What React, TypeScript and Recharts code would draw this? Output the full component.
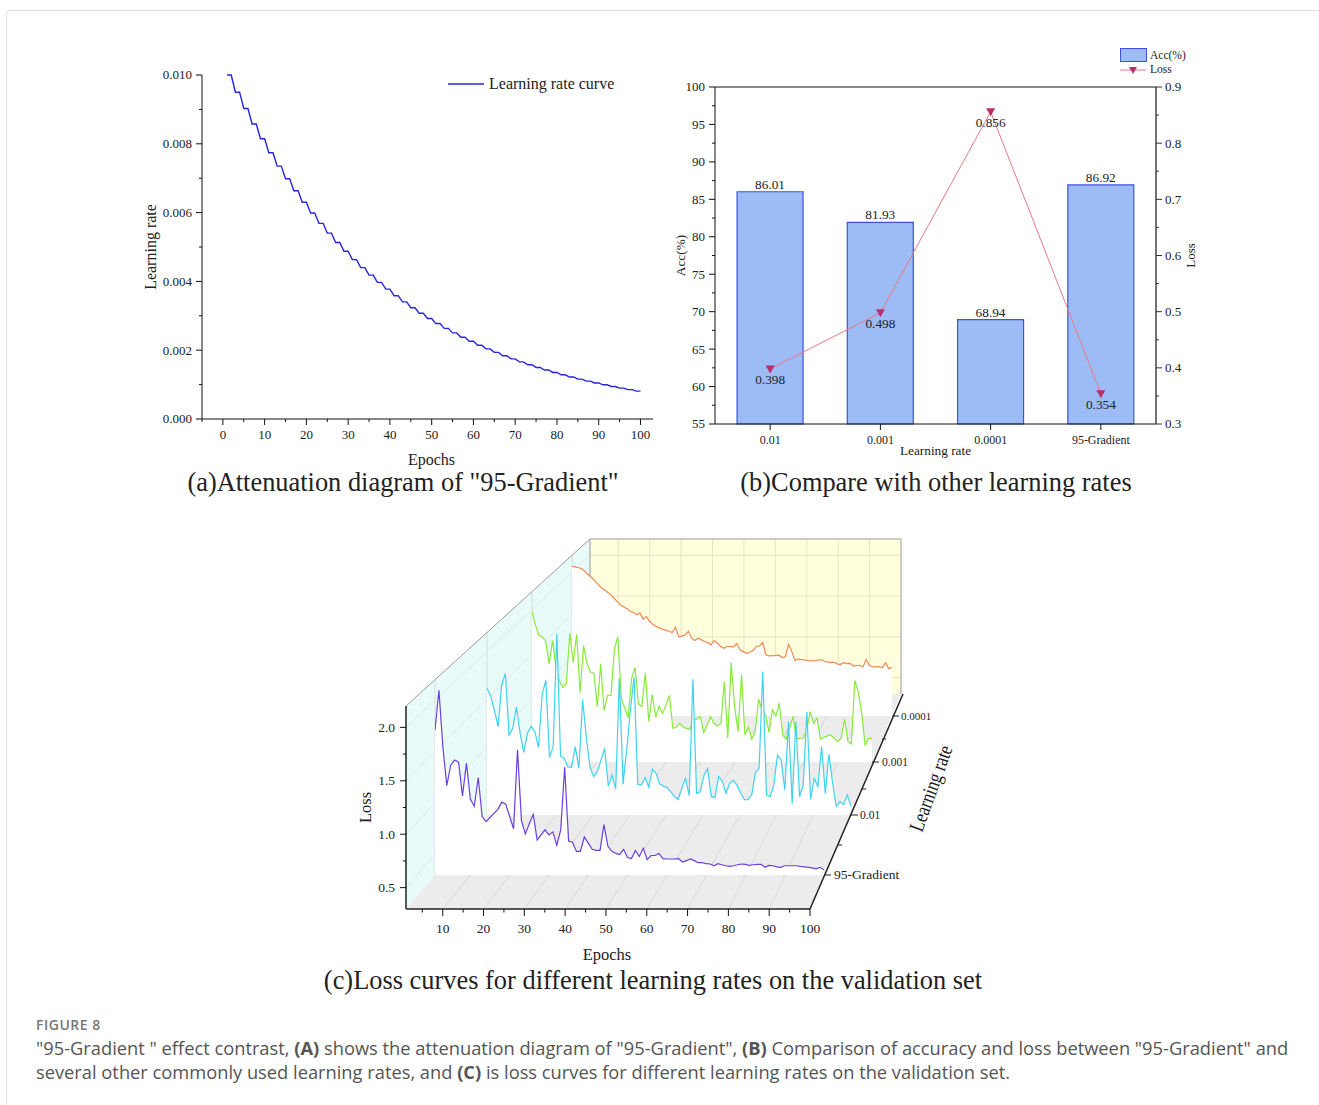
import {
  AreaChart, Area, Bar, CartesianGrid, ComposedChart, LabelList,
  Line, LineChart, ReferenceLine, XAxis, YAxis,
} from 'recharts'

const SERIF = "'Liberation Serif', serif"
const SANS = "'Open Sans', sans-serif"

// (a) learning rate, every value holds for two epochs
const lrSteps = [
  0.01, 0.0095, 0.009025, 0.008574, 0.008145, 0.007738, 0.007351, 0.006983, 0.006634, 0.006302,
  0.005987, 0.005688, 0.005404, 0.005133, 0.004877, 0.004633, 0.004401, 0.004181, 0.003972, 0.003774,
  0.003585, 0.003406, 0.003235, 0.003074, 0.00292, 0.002774, 0.002635, 0.002503, 0.002378, 0.002259,
  0.002146, 0.002039, 0.001937, 0.00184, 0.001748, 0.001661, 0.001578, 0.001499, 0.001424, 0.001353,
  0.001285, 0.001221, 0.00116, 0.001102, 0.001047, 0.000994, 0.000945, 0.000897, 0.000853, 0.00081,
]
const lrData = lrSteps.flatMap((v, i) => [
  { epoch: i * 2 + 1, lr: v },
  { epoch: i * 2 + 2, lr: v },
])

// (b)
const rateNames = ['0.01', '0.001', '0.0001', '95-Gradient']
const accValues = [86.01, 81.93, 68.94, 86.92]
const lossValues = [0.398, 0.498, 0.856, 0.354]
const compareData = rateNames.map((name, i) => ({ name, acc: accValues[i], loss: lossValues[i] }))

// (c) validation loss per epoch
const lossGradient = [
  1.71, 2.10, 1.55, 1.17, 1.37, 1.42, 1.40, 1.07, 1.39, 1.04,
  0.97, 1.25, 0.87, 0.82, 0.86, 0.90, 0.94, 1.01, 0.99, 0.87,
  0.75, 1.52, 0.83, 0.70, 0.80, 0.89, 0.64, 0.69, 0.74, 0.69,
  0.72, 0.59, 0.74, 1.35, 0.63, 0.62, 0.53, 0.53, 0.67, 0.61,
  0.55, 0.54, 0.54, 0.79, 0.58, 0.53, 0.51, 0.50, 0.55, 0.47,
  0.46, 0.54, 0.48, 0.56, 0.45, 0.49, 0.49, 0.51, 0.46, 0.456,
  0.456, 0.456, 0.46, 0.427, 0.44, 0.456, 0.44, 0.42, 0.42, 0.41,
  0.407, 0.39, 0.41, 0.40, 0.39, 0.384, 0.39, 0.40, 0.407, 0.404,
  0.394, 0.40, 0.404, 0.404, 0.375, 0.394, 0.39, 0.38, 0.375, 0.39,
  0.39, 0.39, 0.39, 0.384, 0.38, 0.375, 0.37, 0.36, 0.375, 0.35,
]
const loss001 = [
  1.615, 1.536, 1.39, 1.217, 1.65, 1.77, 1.13, 1.20, 1.42, 1.15,
  0.95, 1.15, 1.22, 1.17, 1.0, 1.55, 1.70, 0.90, 1.01, 2.18,
  0.91, 0.89, 0.80, 0.795, 1.01, 0.785, 1.50, 1.11, 0.80, 0.70,
  0.75, 0.87, 0.99, 0.60, 0.715, 0.57, 1.72, 0.62, 0.975, 1.39,
  1.73, 0.62, 0.61, 0.69, 0.59, 0.775, 0.73, 0.62, 0.60, 0.585,
  0.54, 0.49, 0.46, 0.58, 0.68, 0.50, 1.71, 0.525, 0.54, 0.71,
  0.78, 0.49, 0.48, 0.70, 0.65, 0.525, 0.63, 0.66, 0.61, 0.525,
  0.46, 0.46, 0.51, 0.74, 0.785, 1.79, 0.51, 0.49, 0.61, 0.92,
  0.87, 0.56, 1.27, 0.42, 1.27, 0.49, 0.61, 1.37, 0.46, 0.68,
  0.595, 1.01, 0.525, 0.93, 0.63, 0.39, 0.44, 0.41, 0.51, 0.39,
]
const loss0001 = [
  1.97, 1.82, 1.705, 1.69, 1.64, 1.39, 1.65, 1.34, 1.20, 1.13,
  1.17, 1.73, 1.405, 1.72, 1.07, 1.59, 1.40, 1.30, 1.29, 0.915,
  1.39, 0.87, 1.04, 1.04, 1.56, 1.69, 1.01, 0.90, 0.79, 1.23,
  1.35, 0.94, 0.92, 1.29, 0.75, 1.05, 0.80, 0.92, 0.84, 0.93,
  1.04, 0.675, 0.686, 0.73, 0.69, 0.67, 0.66, 0.77, 0.775, 0.805,
  0.627, 0.71, 0.80, 0.73, 0.70, 0.73, 1.19, 0.564, 1.405, 0.916,
  0.638, 1.27, 0.60, 0.686, 0.553, 0.638, 0.997, 0.879, 0.823, 0.63,
  0.88, 0.81, 0.953, 0.60, 0.553, 0.675, 0.805, 0.556, 0.564, 0.564,
  0.656, 0.86, 0.73, 0.786, 0.553, 0.575, 0.59, 0.60, 0.564, 0.527,
  0.564, 0.775, 0.527, 0.50, 1.205, 1.08, 0.84, 0.49, 0.563, 0.563,
]
const loss00001 = [
  2.065, 2.06, 2.05, 2.04, 2.006, 1.967, 1.935, 1.90, 1.856, 1.817,
  1.79, 1.76, 1.73, 1.69, 1.65, 1.61, 1.59, 1.565, 1.533, 1.525,
  1.494, 1.514, 1.443, 1.474, 1.415, 1.383, 1.356, 1.34, 1.324, 1.313,
  1.30, 1.285, 1.348, 1.234, 1.242, 1.257, 1.30, 1.218, 1.19, 1.218,
  1.198, 1.179, 1.167, 1.139, 1.19, 1.159, 1.12, 1.10, 1.12, 1.12,
  1.115, 1.155, 1.08, 1.06, 1.04, 1.052, 1.072, 1.12, 1.127, 1.167,
  1.02, 1.009, 1.013, 1.013, 1.017, 0.99, 1.0, 1.147, 1.06, 0.954,
  0.974, 0.966, 0.962, 0.954, 0.95, 0.95, 0.958, 0.966, 0.946, 0.938,
  0.934, 0.934, 0.915, 0.907, 0.93, 0.919, 0.922, 0.891, 0.895, 0.899,
  0.879, 0.966, 0.895, 0.879, 0.879, 0.883, 0.871, 0.93, 0.859, 0.875,
]

const toSeries = (values: number[]) => values.map((loss, i) => ({ epoch: i + 1, loss }))

const LOSS_DOMAIN: [number, number] = [0.3, 2.2]
const EPOCH_DOMAIN: [number, number] = [1, 100]
const lossTicks = [0.5, 0.75, 1, 1.25, 1.5, 1.75, 2]
const epochTicks = [5, 10, 15, 20, 25, 30, 35, 40, 45, 50, 55, 60, 65, 70, 75, 80, 85, 90, 95, 100]

// the panels of (c), back to front, each one shrunk by the perspective
const panels = [
  { key: 'back', left: 572, bottom: 716, width: 320, height: 161, color: '#EE8A55', values: loss00001 },
  { key: 'mid', left: 532, bottom: 762, width: 340, height: 171, color: '#86EB3A', values: loss0001 },
  { key: 'near', left: 487, bottom: 815, width: 364, height: 183, color: '#3FD3F0', values: loss001 },
  { key: 'front', left: 435, bottom: 875, width: 389, height: 195, color: '#6A3FE0', values: lossGradient },
]

/* eslint-disable @typescript-eslint/no-explicit-any */
const bottomTick = (isMajor: (v: number) => boolean, dy: number, size: number, len = 6) => (props: any) => {
  const { x, y, payload } = props
  const major = isMajor(payload.value)
  return (
    <g>
      <line x1={x} x2={x} y1={y} y2={y + (major ? len : len / 2)} stroke="#111" />
      {major && (
        <text x={x} y={y + dy} textAnchor="middle" fontSize={size} fontFamily={SERIF} fill="#222">
          {payload.value}
        </text>
      )}
    </g>
  )
}

const sideTick = (side: 1 | -1, isMajor: (v: number) => boolean, fmt: (v: number) => string, gap: number, size: number) => (props: any) => {
  const { x, y, payload } = props
  const major = isMajor(Number(payload.value))
  return (
    <g>
      <line x1={x} x2={x + side * (major ? 6 : 3)} y1={y} y2={y} stroke={side > 0 ? '#333' : '#111'} />
      {major && (
        <text x={x + side * gap} y={y + size * 0.34} textAnchor={side > 0 ? 'start' : 'end'}
              fontSize={size} fontFamily={SERIF} fill="#222">
          {fmt(Number(payload.value))}
        </text>
      )}
    </g>
  )
}

const near = (a: number, b: number) => Math.abs(a - b) < 1e-6
const multipleOf = (step: number) => (v: number) => near(v / step, Math.round(v / step))

function DownTriangle({ cx, cy, size = 4.5, fill = '#B8306A' }: any) {
  return <path d={`M${cx - size},${cy - size + 1} L${cx + size},${cy - size + 1} L${cx},${cy + size} Z`} fill={fill} />
}

function Title({ x, y, children }: any) {
  return (
    <div style={{
      position: 'absolute', left: x - 400, top: y - 16, width: 800, textAlign: 'center',
      fontFamily: SERIF, fontSize: 26.4, lineHeight: '32px', color: '#222', whiteSpace: 'nowrap',
    }}>
      {children}
    </div>
  )
}

function LrChart() {
  return (
    <div style={{ position: 'absolute', left: 130, top: 50 }}>
      <LineChart width={530} height={430} data={lrData} margin={{ left: 0, right: 7, top: 25, bottom: 0 }}>
        <XAxis dataKey="epoch" type="number" domain={[-5, 103]} height={61} interval={0}
          ticks={[-5, 0, 5, 10, 15, 20, 25, 30, 35, 40, 45, 50, 55, 60, 65, 70, 75, 80, 85, 90, 95, 100]}
          tickSize={0} tickMargin={0} tickLine={false} axisLine={{ stroke: '#111' }}
          tick={bottomTick(v => v >= 0 && v % 10 === 0, 20, 13)}
          label={{ value: 'Epochs', position: 'insideBottom', offset: 15, dx: 4, fontSize: 16, fontFamily: SERIF, fill: '#222' }} />
        <YAxis type="number" domain={[0, 0.01]} width={72} interval={0}
          ticks={[0, 0.001, 0.002, 0.003, 0.004, 0.005, 0.006, 0.007, 0.008, 0.009, 0.01]}
          tickSize={0} tickMargin={0} tickLine={false} axisLine={{ stroke: '#111' }}
          tick={sideTick(-1, multipleOf(0.002), v => v.toFixed(3), 10, 13)}
          label={{ value: 'Learning rate', angle: -90, position: 'insideLeft', offset: 20, fontSize: 16, fontFamily: SERIF, fill: '#222', style: { textAnchor: 'middle' } }} />
        <Line dataKey="lr" stroke="#2626E0" strokeWidth={1.4} dot={false} isAnimationActive={false} />
      </LineChart>
      <svg width={200} height={24} style={{ position: 'absolute', left: 316, top: 24 }}>
        <line x1={2} x2={38} y1={10} y2={10} stroke="#2626E0" strokeWidth={1.4} />
        <text x={43} y={15} fontSize={16} fontFamily={SERIF} fill="#222">Learning rate curve</text>
      </svg>
    </div>
  )
}

function CompareChart() {
  return (
    <div style={{ position: 'absolute', left: 660, top: 40 }}>
      <ComposedChart width={560} height={440} data={compareData} barCategoryGap="20%"
                     margin={{ left: 0, right: 0, top: 47, bottom: 0 }}>
        <XAxis dataKey="name" height={56} interval={0} tickSize={0} tickMargin={0} tickLine={false}
          axisLine={{ stroke: '#111' }}
          tick={bottomTick(() => true, 20, 12)}
          label={{ value: 'Learning rate', position: 'insideBottom', offset: 25, fontSize: 13.3, fontFamily: SERIF, fill: '#222' }} />
        <YAxis yAxisId="acc" type="number" domain={[55, 100]} width={55} interval={0}
          ticks={[55, 57.5, 60, 62.5, 65, 67.5, 70, 72.5, 75, 77.5, 80, 82.5, 85, 87.5, 90, 92.5, 95, 97.5, 100]}
          tickSize={0} tickMargin={0} tickLine={false} axisLine={{ stroke: '#111' }}
          tick={sideTick(-1, multipleOf(5), v => String(v), 10, 13)}
          label={{ value: 'Acc(%)', angle: -90, position: 'insideLeft', offset: 20, fontSize: 13.3, fontFamily: SERIF, fill: '#222', style: { textAnchor: 'middle' } }} />
        <YAxis yAxisId="loss" orientation="right" type="number" domain={[0.3, 0.9]} width={64} interval={0}
          ticks={[0.3, 0.35, 0.4, 0.45, 0.5, 0.55, 0.6, 0.65, 0.7, 0.75, 0.8, 0.85, 0.9]}
          tickSize={0} tickMargin={0} tickLine={false} axisLine={{ stroke: '#444', strokeWidth: 1.5 }}
          tick={sideTick(1, multipleOf(0.1), v => v.toFixed(1), 9, 13)}
          label={{ value: 'Loss', angle: -90, position: 'insideRight', offset: 30, fontSize: 13, fontFamily: SERIF, fill: '#222', style: { textAnchor: 'middle' } }} />
        <ReferenceLine yAxisId="acc" y={100} stroke="#111" />
        <Bar yAxisId="acc" dataKey="acc" fill="#9DBBF5" stroke="#3F52E8" strokeWidth={1.2} isAnimationActive={false}>
          <LabelList dataKey="acc" position="top" offset={3} fontSize={13.3} fontFamily={SERIF} fill="#222"
            formatter={(v: any) => Number(v).toFixed(2)} />
        </Bar>
        <Line yAxisId="loss" dataKey="loss" stroke="#E77A86" strokeWidth={1} isAnimationActive={false}
          dot={(p: any) => <DownTriangle key={p.index} cx={p.cx} cy={p.cy} />}>
          <LabelList dataKey="loss" position="bottom" offset={6} fontSize={13.3} fontFamily={SERIF} fill="#222"
            formatter={(v: any) => Number(v).toFixed(3)} />
        </Line>
      </ComposedChart>
      <svg width={90} height={40} style={{ position: 'absolute', left: 455, top: 5 }}>
        <rect x={5.5} y={3.5} width={26} height={13} fill="#9DBBF5" stroke="#3F52E8" />
        <text x={35} y={14} fontSize={11.5} fontFamily={SERIF} fill="#222">Acc(%)</text>
        <line x1={5} x2={31} y1={25} y2={25} stroke="#E77A86" />
        <DownTriangle cx={18} cy={25} size={4} />
        <text x={35} y={28} fontSize={11.5} fontFamily={SERIF} fill="#222">Loss</text>
      </svg>
    </div>
  )
}

// floor and side wall of (c), these only frame the panels
const FRONT = { left: 406, right: 810, top: 706, bottom: 909 }
const BACK = { left: 590, right: 901, top: 539, bottom: 694 }
const frontX = (e: number) => FRONT.left + (e - 1) * (FRONT.right - FRONT.left) / 99
const backX = (e: number) => BACK.left + (e - 1) * (BACK.right - BACK.left) / 99
const frontY = (v: number) => FRONT.bottom - (v - 0.3) * (FRONT.bottom - FRONT.top) / 1.9
const backY = (v: number) => BACK.bottom - (v - 0.3) * (BACK.bottom - BACK.top) / 1.9

function Frame() {
  return (
    <svg width={1319} height={1105} style={{ position: 'absolute', left: 0, top: 0 }}>
      <polygon points={`${FRONT.left},${FRONT.top} ${BACK.left},${BACK.top} ${BACK.left},${BACK.bottom} ${FRONT.left},${FRONT.bottom}`} fill="#E8FBF9" />
      <polygon points={`${FRONT.left},${FRONT.bottom} ${FRONT.right},${FRONT.bottom} ${BACK.right},${BACK.bottom} ${BACK.left},${BACK.bottom}`} fill="#ECECEC" />
      {[0.5, 1, 1.5, 2].map(v => (
        <line key={v} x1={FRONT.left} y1={frontY(v)} x2={BACK.left} y2={backY(v)} stroke="#DCE8E6" />
      ))}
      {[10, 20, 30, 40, 50, 60, 70, 80, 90].map(e => (
        <line key={e} x1={frontX(e)} y1={FRONT.bottom} x2={backX(e)} y2={BACK.bottom} stroke="#D9D9D9" />
      ))}
      {panels.map(p => {
        const y0 = FRONT.top + (p.left - FRONT.left) * (BACK.top - FRONT.top) / (BACK.left - FRONT.left)
        return <line key={p.key} x1={p.left} x2={p.left} y1={y0} y2={p.bottom} stroke="#DADADA" />
      })}
      <polyline points={`${FRONT.left},${FRONT.top} ${BACK.left},${BACK.top} ${BACK.right},${BACK.top} ${BACK.right},${BACK.bottom}`} fill="none" stroke="#9A9A9A" />
      <line x1={BACK.left} x2={BACK.left} y1={BACK.top} y2={BACK.bottom} stroke="#9A9A9A" />
    </svg>
  )
}

function DepthAxis() {
  const labels = [
    { x: 824, y: 875, text: '95-Gradient', size: 13.5, gap: 10 },
    { x: 851, y: 815, text: '0.01', size: 11.5, gap: 9 },
    { x: 872, y: 762, text: '0.001', size: 11.5, gap: 10 },
    { x: 892, y: 716, text: '0.0001', size: 11, gap: 9 },
  ]
  const minors = [[838, 845], [862, 789], [882, 739]]
  return (
    <svg width={1319} height={1105} style={{ position: 'absolute', left: 0, top: 0 }}>
      <line x1={FRONT.right} y1={FRONT.bottom} x2={BACK.right + 2} y2={BACK.bottom} stroke="#222" strokeWidth={1.5} />
      {labels.map(l => (
        <g key={l.text}>
          <line x1={l.x} x2={l.x + 7} y1={l.y} y2={l.y} stroke="#222" />
          <text x={l.x + l.gap} y={l.y + 4} fontSize={l.size} fontFamily={SERIF} fill="#222">{l.text}</text>
        </g>
      ))}
      {minors.map(([x, y]) => <line key={x} x1={x} x2={x + 4} y1={y} y2={y} stroke="#222" />)}
      <text x={0} y={0} transform="translate(922,833) rotate(-70)" fontSize={21} fontFamily={SERIF} fill="#222"
            textLength={90} lengthAdjust="spacingAndGlyphs">
        Learning rate
      </text>
    </svg>
  )
}

function LossPanels() {
  return (
    <>
      <div style={{ position: 'absolute', left: BACK.left, top: BACK.top }}>
        <LineChart width={BACK.right - BACK.left} height={BACK.bottom - BACK.top} data={toSeries(loss00001)}
                   margin={{ left: 0, right: 0, top: 0, bottom: 0 }}>
          <CartesianGrid fill="#FFFFDD" stroke="#E4E4C8"
            horizontalValues={[0.5, 1, 1.5, 2]} verticalValues={[10, 20, 30, 40, 50, 60, 70, 80, 90]} />
          <XAxis dataKey="epoch" type="number" domain={EPOCH_DOMAIN} hide />
          <YAxis type="number" domain={LOSS_DOMAIN} hide />
          <Line dataKey="loss" stroke="none" dot={false} isAnimationActive={false} />
        </LineChart>
      </div>
      <Frame />
      {panels.map(p => (
        <div key={p.key} style={{ position: 'absolute', left: p.left, top: p.bottom - p.height }}>
          <AreaChart width={p.width} height={p.height} data={toSeries(p.values)}
                     margin={{ left: 0, right: 0, top: 0, bottom: 0 }}>
            <XAxis dataKey="epoch" type="number" domain={EPOCH_DOMAIN} hide />
            <YAxis type="number" domain={LOSS_DOMAIN} hide />
            <Area dataKey="loss" baseValue={LOSS_DOMAIN[0]} stroke={p.color} strokeWidth={1.2}
              fill="#fff" fillOpacity={1} dot={false} isAnimationActive={false} />
          </AreaChart>
        </div>
      ))}
      <div style={{ position: 'absolute', left: 340, top: 690 }}>
        <LineChart width={520} height={280} data={toSeries(lossGradient)}
                   margin={{ left: 0, right: 50, top: 16, bottom: 0 }}>
          <XAxis dataKey="epoch" type="number" domain={EPOCH_DOMAIN} height={61} interval={0} ticks={epochTicks}
            tickSize={0} tickMargin={0} tickLine={false} axisLine={{ stroke: '#222', strokeWidth: 1.5 }}
            tick={bottomTick(v => v % 10 === 0, 24, 13.5, 7)}
            label={{ value: 'Epochs', position: 'insideBottom', offset: 10, dx: -1, fontSize: 16.5, fontFamily: SERIF, fill: '#222' }} />
          <YAxis type="number" domain={LOSS_DOMAIN} width={66} interval={0} ticks={lossTicks}
            tickSize={0} tickMargin={0} tickLine={false} axisLine={{ stroke: '#222', strokeWidth: 1.5 }}
            tick={sideTick(-1, multipleOf(0.5), v => v.toFixed(1), 11, 13.5)}
            label={{ value: 'Loss', angle: -90, position: 'insideLeft', offset: 25, fontSize: 16.5, fontFamily: SERIF, fill: '#222', style: { textAnchor: 'middle' } }} />
          <Line dataKey="loss" stroke="none" dot={false} isAnimationActive={false} />
        </LineChart>
      </div>
      <DepthAxis />
    </>
  )
}

export default function App() {
  return (
    <div style={{ position: 'absolute', left: 0, top: 0, width: 1319, height: 1105, overflow: 'hidden', background: '#fff' }}>
      <div style={{
        position: 'absolute', left: 6, top: 10, width: 1400, height: 1200,
        border: '1px solid #DDD', borderRadius: 4,
      }} />
      <LrChart />
      <CompareChart />
      <Title x={403} y={482}>(a)Attenuation diagram of "95-Gradient"</Title>
      <Title x={936} y={482}>(b)Compare with other learning rates</Title>
      <LossPanels />
      <Title x={653} y={980}>(c)Loss curves for different learning rates on the validation set</Title>
      <div style={{
        position: 'absolute', left: 36, top: 1016, fontFamily: SANS, fontSize: 14,
        fontWeight: 600, color: '#777', lineHeight: '18px', letterSpacing: 0.5,
      }}>
        FIGURE 8
      </div>
      <div style={{
        position: 'absolute', left: 36, top: 1036, fontFamily: SANS, fontSize: 18.3,
        color: '#555', lineHeight: '24px', whiteSpace: 'nowrap',
      }}>
        "95-Gradient " effect contrast, <b>(A)</b> shows the attenuation diagram of "95-Gradient", <b>(B)</b> Comparison of accuracy and loss between "95-Gradient" and<br />
        several other commonly used learning rates, and <b>(C)</b> is loss curves for different learning rates on the validation set.
      </div>
    </div>
  )
}
